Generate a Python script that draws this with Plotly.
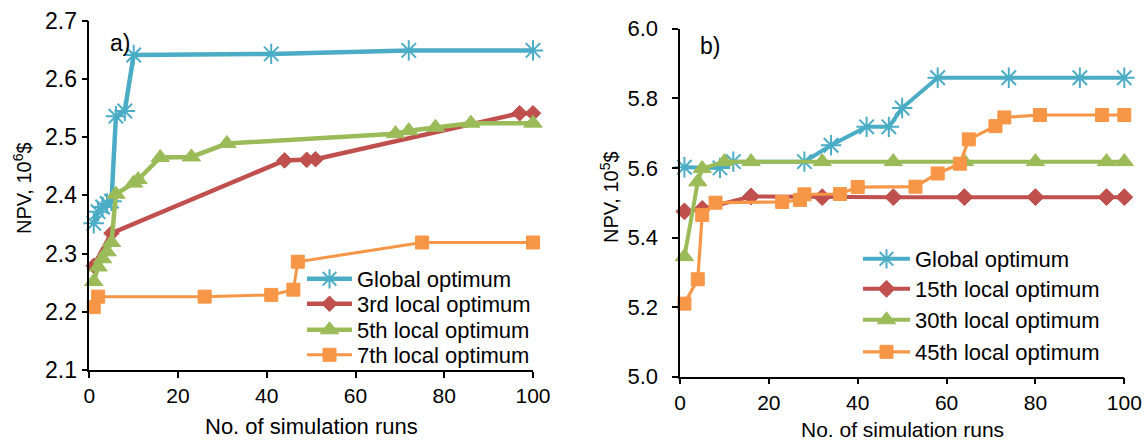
import plotly.graph_objects as go

# ---- Panel a) : NPV (10^6 $) versus number of simulation runs ----
runs_a_global = [1, 2, 3, 4, 5, 6, 8, 10, 41, 72, 100]
npv_a_global = [2.352, 2.372, 2.380, 2.386, 2.390, 2.536, 2.545, 2.641, 2.643, 2.649, 2.649]

runs_a_3rd = [1, 5, 44, 49, 51, 97, 100]
npv_a_3rd = [2.279, 2.335, 2.460, 2.461, 2.462, 2.541, 2.541]

runs_a_5th = [1, 2, 3, 4, 5, 6, 10, 11, 16, 23, 31, 69, 72, 78, 86, 100]
npv_a_5th = [2.252, 2.277, 2.291, 2.303, 2.319, 2.402, 2.421, 2.427, 2.465, 2.466,
             2.489, 2.506, 2.511, 2.517, 2.524, 2.524]

runs_a_7th = [1, 2, 26, 41, 46, 47, 75, 100]
npv_a_7th = [2.208, 2.226, 2.226, 2.229, 2.238, 2.286, 2.319, 2.319]

# ---- Panel b) : NPV (10^5 $) versus number of simulation runs ----
runs_b_global = [1, 9, 12, 28, 34, 42, 47, 50, 58, 74, 90, 100]
npv_b_global = [5.602, 5.600, 5.618, 5.618, 5.665, 5.718, 5.718, 5.772, 5.859, 5.859, 5.859, 5.859]

runs_b_15th = [1, 5, 16, 32, 48, 64, 80, 96, 100]
npv_b_15th = [5.475, 5.482, 5.518, 5.516, 5.516, 5.516, 5.516, 5.516, 5.516]

runs_b_30th = [1, 4, 5, 10, 16, 32, 48, 64, 80, 96, 100]
npv_b_30th = [5.345, 5.560, 5.598, 5.618, 5.618, 5.618, 5.618, 5.618, 5.618, 5.618, 5.618]

runs_b_45th = [1, 4, 5, 8, 23, 27, 28, 36, 40, 53, 58, 63, 65, 71, 73, 81, 95, 100]
npv_b_45th = [5.210, 5.280, 5.465, 5.500, 5.502, 5.508, 5.524, 5.525, 5.545, 5.546,
              5.584, 5.612, 5.682, 5.720, 5.745, 5.752, 5.752, 5.752]

labels_a = ["Global optimum", "3rd local optimum", "5th local optimum", "7th local optimum"]
labels_b = ["Global optimum", "15th local optimum", "30th local optimum", "45th local optimum"]

BLUE, RED, GREEN, ORANGE = "#4BACC6", "#C0504D", "#9BBB59", "#F79646"
FONT = "Liberation Sans, Arial, sans-serif"
W, H = 1146, 442


def px_x(p):
    return p / W


def px_y(p):
    return 1 - p / H


# per panel: line width and marker size for each series
styles_a = [
    dict(color=BLUE, symbol="asterisk-open", width=4.5, size=17),
    dict(color=RED, symbol="diamond", width=4.5, size=12),
    dict(color=GREEN, symbol="triangle-up", width=4.5, size=16),
    dict(color=ORANGE, symbol="square", width=3, size=13),
]
styles_b = [
    dict(color=BLUE, symbol="asterisk-open", width=4, size=17),
    dict(color=RED, symbol="diamond", width=4, size=13),
    dict(color=GREEN, symbol="triangle-up", width=4, size=16),
    dict(color=ORANGE, symbol="square", width=3.2, size=13),
]

fig = go.Figure()

series_a = [(runs_a_global, npv_a_global), (runs_a_3rd, npv_a_3rd),
            (runs_a_5th, npv_a_5th), (runs_a_7th, npv_a_7th)]
series_b = [(runs_b_global, npv_b_global), (runs_b_15th, npv_b_15th),
            (runs_b_30th, npv_b_30th), (runs_b_45th, npv_b_45th)]

# one legend per entry so each row can sit where it belongs
rows_a = [279, 304, 330, 355]
rows_b = [259, 289, 320, 352]

# panel b uses two overlaid y axes with identical range: y2 carries the
# axis line and ticks, y3 carries the tick labels set further out
yaxes_a = ["y", "y", "y", "y"]
yaxes_b = ["y2", "y2", "y3", "y3"]

legend_defs = {}
k = 0
for series, labels, styles, rows, xa, yas, lx, iw in [
    (series_a, labels_a, styles_a, rows_a, "x", yaxes_a, 302, 45),
    (series_b, labels_b, styles_b, rows_b, "x2", yaxes_b, 858, 47),
]:
    for (xs, ys), name, st, row, ya in zip(series, labels, styles, rows, yas):
        k += 1
        lname = "legend" if k == 1 else f"legend{k}"
        star = st["symbol"] == "asterisk-open"
        fig.add_trace(go.Scatter(
            x=xs, y=ys, name=name, mode="lines+markers", showlegend=True,
            xaxis=xa, yaxis=ya, legend=lname, cliponaxis=False,
            line=dict(color=st["color"], width=st["width"]),
            marker=dict(symbol=st["symbol"], size=st["size"], color=st["color"],
                        line=dict(color=st["color"], width=2 if star else 1)),
        ))
        legend_defs[lname] = dict(
            x=px_x(lx), y=px_y(row), xanchor="left", yanchor="middle",
            bgcolor="rgba(0,0,0,0)", borderwidth=0, itemwidth=iw,
            font=dict(family=FONT, size=22, color="#000000"),
        )

axis_common = dict(
    showline=True, linecolor="#000000", linewidth=1.5,
    ticks="outside", ticklen=6, tickwidth=1.5, tickcolor="#000000",
    showgrid=False, zeroline=False, mirror=False, automargin=False,
    tickfont=dict(family=FONT, size=21, color="#000000"),
)

dom_y2 = [px_y(376.7), px_y(28.7)]

fig.update_layout(
    width=W, height=H,
    margin=dict(l=0, r=0, t=0, b=0, pad=0, autoexpand=False),
    showlegend=True,
    paper_bgcolor="white", plot_bgcolor="white",
    font=dict(family=FONT, color="#000000"),
    xaxis=dict(axis_common, domain=[px_x(89.3), px_x(533)], range=[0, 100], dtick=20, anchor="y"),
    yaxis=dict(axis_common, domain=[px_y(370), px_y(20.7)], range=[2.1, 2.7], dtick=0.1,
               tickformat=".1f", anchor="x", tickfont=dict(family=FONT, size=23, color="#000000")),
    xaxis2=dict(axis_common, domain=[px_x(680), px_x(1124.3)], range=[0, 100], dtick=20, anchor="y2"),
    yaxis2=dict(axis_common, domain=dom_y2, range=[5.0, 6.0], dtick=0.2,
                anchor="x2", showticklabels=False),
    yaxis3=dict(domain=dom_y2, range=[5.0, 6.0], dtick=0.2, tickformat=".1f",
                overlaying="y2", anchor="free", position=px_x(658), side="left",
                showline=False, ticks="", showgrid=False, zeroline=False, automargin=False,
                tickfont=dict(family=FONT, size=22, color="#000000")),
    **legend_defs,
)

annots = [
    dict(text="a)", x=px_x(120), y=px_y(43), size=23, angle=0),
    dict(text="b)", x=px_x(710), y=px_y(46), size=23, angle=0),
    dict(text="NPV, 10<sup>6</sup>$", x=px_x(22), y=px_y(188), size=20, angle=-90),
    dict(text="NPV, 10<sup>5</sup>$", x=px_x(609), y=px_y(197), size=20, angle=-90),
    dict(text="No. of simulation runs", x=px_x(311), y=px_y(426), size=22, angle=0),
    dict(text="No. of simulation runs", x=px_x(902), y=px_y(429), size=21, angle=0),
]
for a in annots:
    fig.add_annotation(text=a["text"], x=a["x"], y=a["y"], xref="paper", yref="paper",
                       xanchor="center", yanchor="middle", showarrow=False, textangle=a["angle"],
                       font=dict(family=FONT, size=a["size"], color="#000000"))

fig.write_html("out.html")
